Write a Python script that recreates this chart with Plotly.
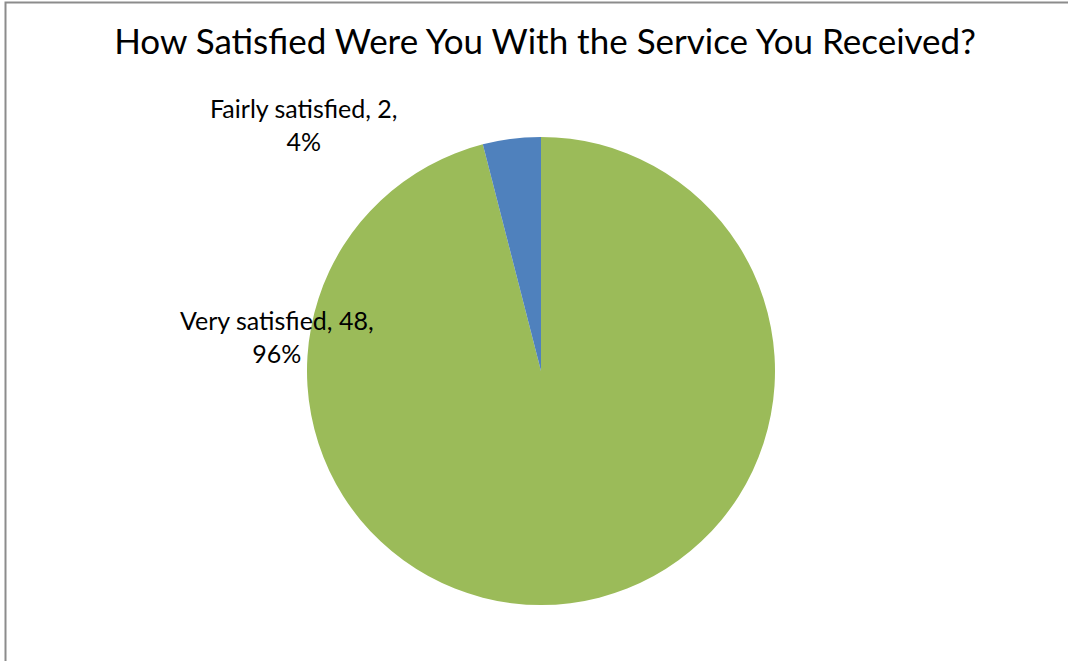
import plotly.graph_objects as go

categories = ["Very satisfied", "Fairly satisfied"]
counts = [48, 2]
colors = ["#9BBB59", "#4F81BD"]

total = sum(counts)
label_text = {c: f"{c}, {v},<br>{round(100 * v / total)}%" for c, v in zip(categories, counts)}

W, H = 1068, 661
cx, cy, r = 541, 371, 234  # pie centre and radius in pixels

fig = go.Figure(go.Pie(
    labels=categories,
    values=counts,
    marker=dict(colors=colors, line=dict(width=0)),
    sort=False,
    direction="clockwise",
    rotation=0,
    textinfo="none",
    hoverinfo="label+value+percent",
    showlegend=False,
    domain=dict(x=[(cx - r) / W, (cx + r) / W], y=[(H - cy - r) / H, (H - cy + r) / H]),
))

font = dict(family="Lato, 'Open Sans', sans-serif", color="#000000")

fig.add_annotation(text=label_text["Fairly satisfied"], x=304 / W, y=1 - 124 / H,
                   xref="paper", yref="paper", xanchor="center", yanchor="middle",
                   showarrow=False, font=dict(size=25, **font), align="center")
fig.add_annotation(text=label_text["Very satisfied"], x=277 / W, y=1 - 336 / H,
                   xref="paper", yref="paper", xanchor="center", yanchor="middle",
                   showarrow=False, font=dict(size=25, **font), align="center")

# chart frame
fig.add_shape(type="rect", xref="paper", yref="paper",
              x0=5.5 / W, x1=1.01, y0=-0.01, y1=1 - 2.5 / H,
              line=dict(color="#8c8c8c", width=2), fillcolor="rgba(0,0,0,0)")

fig.update_layout(
    width=W, height=H,
    margin=dict(l=0, r=0, t=0, b=0),
    paper_bgcolor="white",
    plot_bgcolor="white",
    title=dict(text="How Satisfied Were You With the Service You Received?",
               x=545 / W, xanchor="center", y=1 - 42 / H, yanchor="middle",
               font=dict(size=35, **font)),
)

fig.write_html("out.html")
